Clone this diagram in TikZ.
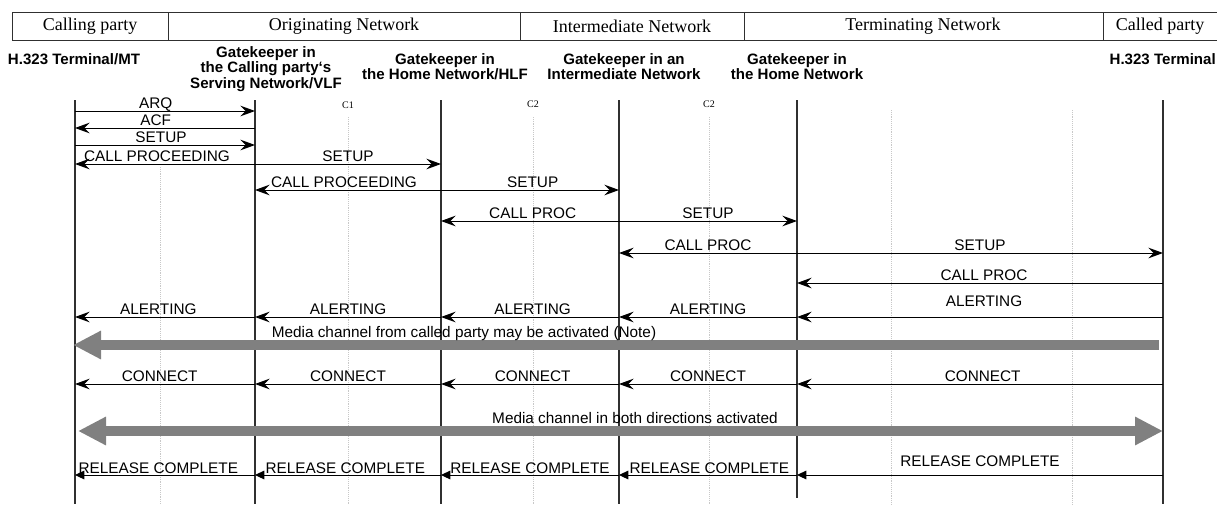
\documentclass[tikz,border=0pt]{standalone}
\usepackage{fontspec}
\setmainfont{Liberation Serif}
\newfontfamily\arialfont{Liberation Sans}
\usetikzlibrary{arrows.meta}
\definecolor{lifegray}{HTML}{303030}
\definecolor{gridgray}{HTML}{C8C8C8}
\definecolor{mediagray}{HTML}{808080}
\tikzset{
  hdr/.style={font=\fontsize{13.5}{16}\selectfont, inner sep=0pt},
  ent/.style={font=\arialfont\bfseries\fontsize{11.3}{10.2}\selectfont, align=center, inner sep=0pt, anchor=north},
  cmark/.style={font=\fontsize{7.5}{8}\selectfont, inner sep=0pt},
  lifeline/.style={draw=lifegray, line width=0.8pt},
  gridline/.style={draw=gridgray, line width=0.4pt, densely dotted},
  msg/.style={-{Stealth[length=11pt,width=8pt,inset=4pt]}, line width=0.75pt},
  relmsg/.style={-{Triangle[length=7pt,width=6.5pt]}, line width=0.75pt},
  media/.style={draw=mediagray, line width=7pt, -{Triangle[length=21pt,width=20pt]}},
  lbl/.style={font=\arialfont\fontsize{11.5}{13}\selectfont, inner sep=0pt, text depth=0pt, above=1.5pt},
  notetxt/.style={font=\arialfont\fontsize{11.5}{13}\selectfont, inner sep=0pt, anchor=base}
}

\begin{document}
\begin{tikzpicture}[x=0.75pt,y=-0.75pt]
\useasboundingbox (0,0) rectangle (1217,504);
%the header row
\draw[lifegray, line width=0.7pt] (12,12) rectangle (1217,40);
\draw[lifegray, line width=0.7pt] (168,12) -- (168,40) (520,12) -- (520,40) (744,12) -- (744,40) (1103,12) -- (1103,40);
\node[hdr] (hcalling) at (90,26) {Calling party};
\node[hdr] (horig) at (344,26) {Originating Network};
\node[hdr] (hinter) at (632,26) {Intermediate Network};
\node[hdr] (hterm) at (923,26) {Terminating Network};
\node[hdr] (hcalled) at (1160,26) {Called party};

%the entities
\node[ent] (mttxt) at (74,53) {H.323 Terminal/MT};
\node[ent] (vlftxt) at (266,46) {Gatekeeper in\\the Calling party‘s\\Serving Network/VLF};
\node[ent] (hlftxt) at (445,53) {Gatekeeper in\\the Home Network/HLF};
\node[ent] (igktxt) at (624,53) {Gatekeeper in an\\Intermediate Network};
\node[ent] (tgktxt) at (797,53) {Gatekeeper in\\the Home Network};
\node[ent, anchor=north east] (cttxt) at (1216,53) {H.323 Terminal};

%tops of the lifelines and the rows
\coordinate (mt) at (75,100);
\coordinate (vlf) at (255,100);
\coordinate (hlf) at (441,100);
\coordinate (igk) at (619,100);
\coordinate (tgk) at (797,100);
\coordinate (ct) at (1163,100);
\coordinate (bot) at (0,504);
\coordinate (r1) at (0,111);
\coordinate (r2) at (0,128);
\coordinate (r3) at (0,145);
\coordinate (r4) at (0,164);
\coordinate (r5) at (0,190);
\coordinate (r6) at (0,221);
\coordinate (r7) at (0,253);
\coordinate (r8) at (0,283);
\coordinate (r9) at (0,317);
\coordinate (r10) at (0,384);
\coordinate (r11) at (0,475);
\coordinate (m1r) at (1159,345);
\coordinate (m1l) at (73,345);
\coordinate (m2l) at (78,431);
\coordinate (m2r) at (1163,431);

%dotted helper lines
\draw[gridline] (160,167) -- (160,504);
\draw[gridline] (348,117) -- (348,504);
\draw[gridline] (533,117) -- (533,504);
\draw[gridline] (709,117) -- (709,504);
\draw[gridline] (891,110) -- (891,504);
\draw[gridline] (1072,110) -- (1072,504);
\node[cmark] (c1) at (348,105) {C1};
\node[cmark] (c2a) at (533,104) {C2};
\node[cmark] (c2b) at (709,104) {C2};

%lifelines
\draw[lifeline] (mt) -- (mt |- bot);
\draw[lifeline] (vlf) -- (vlf |- bot);
\draw[lifeline] (hlf) -- (hlf |- bot);
\draw[lifeline] (igk) -- (igk |- bot);
\draw[lifeline] (tgk) -- (797,498);
\draw[lifeline] (ct) -- (ct |- bot);

%admission and call setup
\draw[msg] (mt |- r1) -- node[lbl, xshift=-7pt] (larq) {ARQ} (vlf |- r1);

\draw[msg] (vlf |- r2) -- node[lbl, xshift=-7pt] (lacf) {ACF} (mt |- r2);

\draw[msg] (mt |- r3) -- node[lbl, xshift=-3pt] (lsetupa) {SETUP} (vlf |- r3);

\draw[msg] (vlf |- r4) -- node[lbl, xshift=-6pt] (lcpa) {CALL PROCEEDING} (mt |- r4);
\draw[msg] (vlf |- r4) -- node[lbl] (lsetupb) {SETUP} (hlf |- r4);

\draw[msg] (hlf |- r5) -- node[lbl, xshift=-3pt] (lcpb) {CALL PROCEEDING} (vlf |- r5);
\draw[msg] (hlf |- r5) -- node[lbl, xshift=2pt] (lsetupc) {SETUP} (igk |- r5);

\draw[msg] (igk |- r6) -- node[lbl, xshift=2pt] (lcpc) {CALL PROC} (hlf |- r6);
\draw[msg] (igk |- r6) -- node[lbl] (lsetupd) {SETUP} (tgk |- r6);

\draw[msg] (tgk |- r7) -- node[lbl] (lcpd) {CALL PROC} (igk |- r7);
\draw[msg] (tgk |- r7) -- node[lbl] (lsetupe) {SETUP} (ct |- r7);

\draw[msg] (ct |- r8) -- node[lbl, xshift=3pt] (lcpe) {CALL PROC} (tgk |- r8);

%alerting
\draw[msg] (ct |- r9) -- node[lbl, xshift=3pt, yshift=6pt] (lalerte) {ALERTING} (tgk |- r9);
\draw[msg] (tgk |- r9) -- node[lbl] (lalertd) {ALERTING} (igk |- r9);
\draw[msg] (igk |- r9) -- node[lbl, xshift=2pt] (lalertc) {ALERTING} (hlf |- r9);
\draw[msg] (hlf |- r9) -- node[lbl] (lalertb) {ALERTING} (vlf |- r9);
\draw[msg] (vlf |- r9) -- node[lbl, xshift=-5pt] (lalerta) {ALERTING} (mt |- r9);

\draw[media] (m1r) -- (m1l);
\node[notetxt] (note1) at (464,337) {Media channel from called party may be activated (Note)};

%connect
\draw[msg] (ct |- r10) -- node[lbl, xshift=2pt] (lconne) {CONNECT} (tgk |- r10);
\draw[msg] (tgk |- r10) -- node[lbl] (lconnd) {CONNECT} (igk |- r10);
\draw[msg] (igk |- r10) -- node[lbl, xshift=2pt] (lconnc) {CONNECT} (hlf |- r10);
\draw[msg] (hlf |- r10) -- node[lbl] (lconnb) {CONNECT} (vlf |- r10);
\draw[msg] (vlf |- r10) -- node[lbl, xshift=-4pt] (lconna) {CONNECT} (mt |- r10);

\draw[media, {Triangle[length=21pt,width=20pt]}-{Triangle[length=21pt,width=20pt]}] (m2l) -- (m2r);
\node[notetxt] (note2) at (635,423) {Media channel in both directions activated};

%release
\draw[relmsg] (ct |- r11) -- node[lbl, yshift=4.5pt] (lrele) {RELEASE COMPLETE} (tgk |- r11);
\draw[relmsg] (tgk |- r11) -- node[lbl, xshift=1pt, yshift=-0.8pt] (lreld) {RELEASE COMPLETE} (igk |- r11);
\draw[relmsg] (igk |- r11) -- node[lbl, yshift=-0.8pt] (lrelc) {RELEASE COMPLETE} (hlf |- r11);
\draw[relmsg] (hlf |- r11) -- node[lbl, xshift=-2pt, yshift=-0.8pt] (lrelb) {RELEASE COMPLETE} (vlf |- r11);
\draw[relmsg] (vlf |- r11) -- node[lbl, xshift=-5pt, yshift=-0.8pt] (lrela) {RELEASE COMPLETE} (mt |- r11);

\end{tikzpicture}
\end{document}
